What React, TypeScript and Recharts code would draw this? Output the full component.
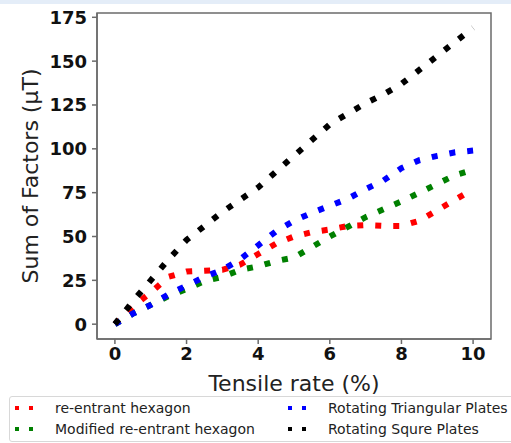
import React from "react";
import { LineChart, Line, XAxis, YAxis, ReferenceArea } from "recharts";

const tensileRate = [0, 0.5, 1, 1.5, 2, 2.5, 3, 3.5, 4, 4.5, 5, 5.5, 6, 6.5, 7, 7.5, 8, 8.5, 9, 9.5, 10];
const reEntrant = [0, 10, 18, 27, 30, 30.5, 31, 34, 40, 46, 50, 52.5, 54, 56, 56.5, 56, 56, 59, 65, 71, 77];
const modifiedReEntrant = [0, 6, 11, 16, 20, 24.5, 27, 31, 33, 36, 38, 44, 50, 55.5, 61, 65.5, 70, 75, 80, 85, 88];
const rotatingTriangular = [0, 6, 11, 17, 22, 27, 31, 37, 45, 53, 59, 63.5, 67.5, 71.5, 77, 82, 89, 93.5, 96, 98, 99];
const rotatingSquare = [0, 13, 25, 37, 48, 56, 64, 71, 78, 87, 96, 105, 114, 120, 126, 131, 137, 145, 153, 161, 169];

const xTicks = [0, 2, 4, 6, 8, 10];
const yTicks = [0, 25, 50, 75, 100, 125, 150, 175];

const seriesInfo = [
  { key: "re", name: "re-entrant hexagon", color: "#ff0000", values: reEntrant },
  { key: "mod", name: "Modified re-entrant hexagon", color: "#008000", values: modifiedReEntrant },
  { key: "tri", name: "Rotating Triangular Plates", color: "#0000ff", values: rotatingTriangular },
  { key: "sq", name: "Rotating Squre Plates", color: "#000000", values: rotatingSquare },
];

const data = tensileRate.map((x, i) => {
  const row: any = { x };
  seriesInfo.forEach((s) => (row[s.key] = s.values[i]));
  return row;
});

const font = "'DejaVu Sans', sans-serif";
const axisColor = "#6b6b6b";

function LegendItem({ color, label, left, top }: { color: string; label: string; left: number; top: number }) {
  return (
    <div style={{ position: "absolute", left, top, height: 16, display: "flex", alignItems: "center" }}>
      <svg width={30} height={8} style={{ display: "block" }}>
        <rect x={6} y={2} width={4} height={4} fill={color} />
        <rect x={20} y={2} width={4} height={4} fill={color} />
      </svg>
      <span style={{ marginLeft: 16, fontFamily: font, fontSize: 14, color: "#222", whiteSpace: "nowrap" }}>{label}</span>
    </div>
  );
}

export default function App() {
  return (
    <div style={{ position: "absolute", left: 0, top: 0, width: 511, height: 443, background: "#fff", overflow: "hidden" }}>
      <div style={{ position: "absolute", left: 0, top: 0, width: 511, height: 4, background: "#e4edf8" }} />
      <div style={{ position: "absolute", left: 0, top: 0 }}>
        <LineChart
          width={511}
          height={443}
          data={data}
          margin={{ top: 13, right: 20, bottom: 48, left: 0 }}
        >
          <XAxis
            dataKey="x"
            type="number"
            domain={[-0.5, 10.5]}
            ticks={xTicks}
            allowDataOverflow
            height={56}
            tickSize={5}
            tickMargin={3}
            stroke={axisColor}
            strokeWidth={1.5}
            tick={{ fontFamily: font, fontSize: 18, fontWeight: "bold", fill: "#111" }}
            label={{ value: "Tensile rate (%)", position: "insideBottom", offset: 4, style: { fontFamily: font, fontSize: 22, fill: "#222" } }}
          />
          <YAxis
            type="number"
            domain={[-8.45, 177.45]}
            ticks={yTicks}
            allowDataOverflow
            width={97}
            tickSize={5}
            tickMargin={5}
            stroke={axisColor}
            strokeWidth={1.5}
            tick={{ fontFamily: font, fontSize: 18, fontWeight: "bold", fill: "#111" }}
            label={{ value: "Sum of Factors (\u00b5T)", angle: -90, position: "insideLeft", offset: 30, style: { textAnchor: "middle", fontFamily: font, fontSize: 22, fill: "#222" } }}
          />
          <ReferenceArea x1={-0.5} x2={10.5} y1={-8.45} y2={177.45} fill="none" stroke={axisColor} strokeWidth={1.5} />
          {seriesInfo.map((s) => (
            <Line
              key={s.key}
              dataKey={s.key}
              name={s.name}
              type="linear"
              stroke={s.color}
              strokeWidth={6}
              strokeDasharray="6 12"
              dot={false}
              activeDot={false}
              isAnimationActive={false}
            />
          ))}
        </LineChart>
      </div>
      <div style={{ position: "absolute", left: 9, top: 396, width: 520, height: 46, border: "1px solid #d8d8d8", borderRadius: 3, boxSizing: "border-box", background: "#fff" }} />
      <LegendItem color={seriesInfo[0].color} label={seriesInfo[0].name} left={9} top={400} />
      <LegendItem color={seriesInfo[1].color} label={seriesInfo[1].name} left={9} top={421} />
      <LegendItem color={seriesInfo[2].color} label={seriesInfo[2].name} left={282} top={400} />
      <LegendItem color={seriesInfo[3].color} label={seriesInfo[3].name} left={282} top={421} />
    </div>
  );
}
